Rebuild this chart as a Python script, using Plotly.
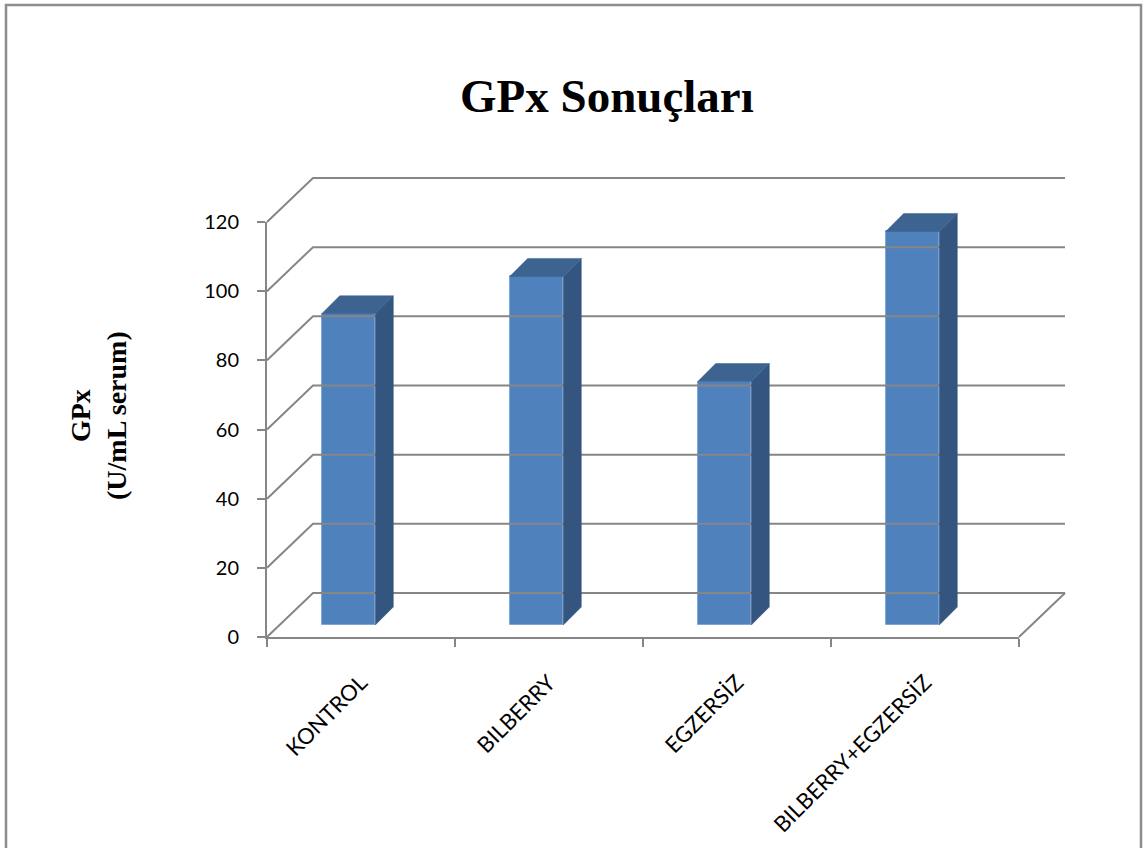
import plotly.graph_objects as go

# ---- data -------------------------------------------------------------
categories = ["KONTROL", "BILBERRY", "EGZERSİZ", "BILBERRY+EGZERSİZ"]
gpx_values = [90.0, 100.8, 70.4, 113.8]
y_ticks = [0, 20, 40, 60, 80, 100, 120]

# ---- canvas / projection setup ----------------------------------------
W, H = 1145, 848
PX_PER_CAT = 188.0          # pixels per category slot
PX_PER_UNIT = 415.0 / 120   # pixels per GPx unit on the front axis
CAT0_PX = 361.0             # pixel x of first category centre
ZERO_PX = 637.0             # pixel y of value 0 on the front axis

# wall depth (back wall offset) and bar depth, in data units
WALL_DX, WALL_DY = 46 / PX_PER_CAT, 44 / PX_PER_UNIT
BAR_DX, BAR_DY = 18 / PX_PER_CAT, 18 / PX_PER_UNIT
BAR_W = 53.6 / PX_PER_CAT
BAR_OFF = -(12.5 + 26.8) / PX_PER_CAT
BAR_BASE = 12 / PX_PER_UNIT
X_LEFT, X_RIGHT = -0.5, len(categories) - 0.5

GRID = "#868686"
FRONT = "#4F81BD"
SIDE = "#33557F"
TOP = "#3D6391"

fig = go.Figure()

# back wall + side wall gridlines
gx, gy = [], []
for t in y_ticks:
    gx += [X_LEFT, X_LEFT + WALL_DX, X_RIGHT + WALL_DX, None]
    gy += [t, t + WALL_DY, t + WALL_DY, None]
# right edge of the floor
gx += [X_RIGHT, X_RIGHT + WALL_DX, None]
gy += [0, WALL_DY, None]
fig.add_trace(go.Scatter(x=gx, y=gy, mode="lines",
                         line=dict(color=GRID, width=2),
                         hoverinfo="skip", showlegend=False))

# bar side and top faces
sx, sy, tx, ty = [], [], [], []
for i, v in enumerate(gpx_values):
    L = i + BAR_OFF
    R = L + BAR_W
    b = BAR_BASE
    top = b + v
    sx += [R, R + BAR_DX, R + BAR_DX, R, R, None]
    sy += [b, b + BAR_DY, top + BAR_DY, top, b, None]
    tx += [L, R, R + BAR_DX, L + BAR_DX, L, None]
    ty += [top, top, top + BAR_DY, top + BAR_DY, top, None]

fig.add_trace(go.Scatter(x=sx, y=sy, mode="lines", fill="toself",
                         fillcolor=SIDE, line=dict(color=SIDE, width=0.5),
                         hoverinfo="skip", showlegend=False))
fig.add_trace(go.Scatter(x=tx, y=ty, mode="lines", fill="toself",
                         fillcolor=TOP, line=dict(color=TOP, width=0.5),
                         hoverinfo="skip", showlegend=False))

# bar front faces
fig.add_trace(go.Bar(
    x=list(range(len(categories))), y=gpx_values, base=BAR_BASE,
    width=BAR_W, offset=BAR_OFF,
    marker=dict(color=FRONT, line=dict(color="#7FA6D6", width=1)),
    hovertext=categories, showlegend=False,
))

# front value axis / category axis carrier (invisible points)
fig.add_trace(go.Scatter(
    x=categories, y=gpx_values, xaxis="x2", yaxis="y2", mode="markers",
    marker=dict(opacity=0), hoverinfo="skip", showlegend=False,
))

# ---- axes ---------------------------------------------------------------
x_min = (0 - CAT0_PX) / PX_PER_CAT
x_max = (W - CAT0_PX) / PX_PER_CAT
y_min = (ZERO_PX - H) / PX_PER_UNIT
y_max = ZERO_PX / PX_PER_UNIT

front_x0 = (CAT0_PX - 0.5 * PX_PER_CAT) / W
front_x1 = (CAT0_PX + (len(categories) - 0.5) * PX_PER_CAT) / W
front_y0 = (H - ZERO_PX) / H
front_y1 = (H - (ZERO_PX - 120 * PX_PER_UNIT)) / H

y_tick_font = dict(family="Lato, Carlito, Calibri, sans-serif", size=20, color="#000000")
x_tick_font = dict(family="Lato, Carlito, Calibri, sans-serif", size=22, color="#000000")

fig.update_layout(
    template="none",
    width=W, height=H,
    margin=dict(l=0, r=0, t=0, b=0, pad=0),
    paper_bgcolor="white", plot_bgcolor="rgba(0,0,0,0)",
    bargap=0,
    xaxis=dict(range=[x_min, x_max], domain=[0, 1], visible=False,
               fixedrange=True, automargin=False),
    yaxis=dict(range=[y_min, y_max], domain=[0, 1], visible=False,
               fixedrange=True, automargin=False),
    xaxis2=dict(
        type="category", categoryorder="array", categoryarray=categories,
        range=[-0.5, len(categories) - 0.5], domain=[front_x0, front_x1],
        anchor="y2", tickson="boundaries", ticks="outside", ticklen=8,
        tickwidth=2, tickcolor=GRID, showline=True, linecolor=GRID, linewidth=2,
        showgrid=False, zeroline=False, tickangle=-45, tickfont=x_tick_font,
        ticklabelstandoff=22, fixedrange=True, automargin=False,
    ),
    yaxis2=dict(
        range=[0, 120], domain=[front_y0, front_y1], anchor="x2",
        tickvals=y_ticks, ticks="outside", ticklen=8, tickwidth=2,
        tickcolor=GRID, showline=True, linecolor=GRID, linewidth=2,
        showgrid=False, zeroline=False, tickfont=y_tick_font,
        ticklabelstandoff=14, fixedrange=True, automargin=False,
    ),
)

# chart frame
fig.add_shape(type="rect", xref="paper", yref="paper",
              x0=6 / W, x1=1141 / W, y0=-0.05, y1=(H - 5) / H,
              line=dict(color="#8C8C8C", width=2.5), fillcolor="rgba(0,0,0,0)",
              layer="below")

serif = "Liberation Serif, Times New Roman, serif"
fig.add_annotation(text="<b>GPx Sonuçları</b>", xref="paper", yref="paper",
                   x=606.5 / W, y=(H - 96) / H, xanchor="center", yanchor="middle",
                   showarrow=False, font=dict(family=serif, size=47, color="#000000"))
fig.add_annotation(text="<b>GPx</b><br><b>(U/mL serum)</b>", xref="paper", yref="paper",
                   x=98 / W, y=(H - 416) / H, xanchor="center", yanchor="middle",
                   textangle=-90, showarrow=False,
                   font=dict(family=serif, size=28, color="#000000"))

fig.write_html("out.html")
